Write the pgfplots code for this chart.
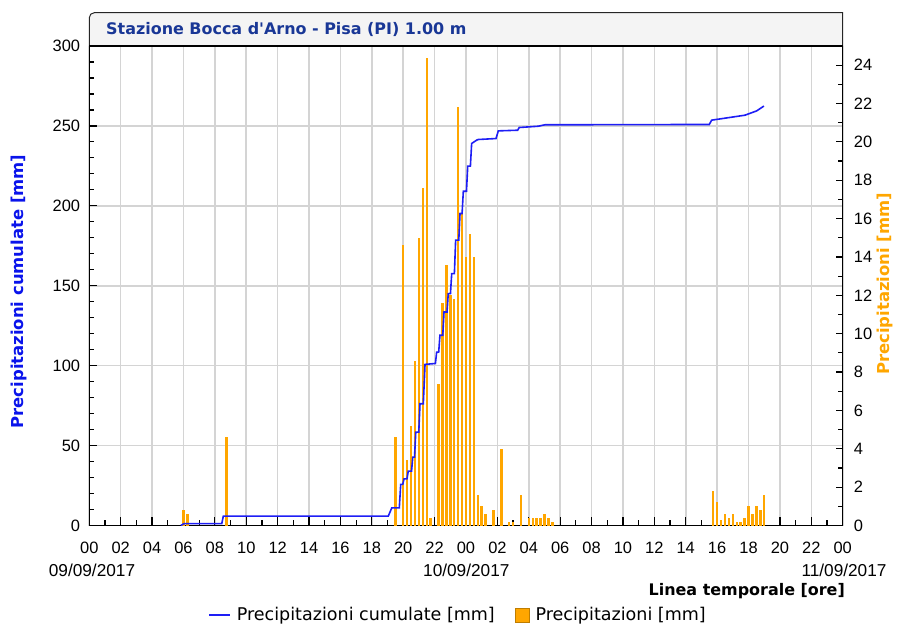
\documentclass[border=0pt]{standalone}
\usepackage{pgfplots}
\pgfplotsset{compat=1.18}
\usepackage{fontspec}
\setmainfont{DejaVu Sans}
\newfontfamily\tickfont{Liberation Sans}
\definecolor{cumblue}{RGB}{30,30,245}
\definecolor{labelblue}{RGB}{10,20,235}
\definecolor{barorange}{RGB}{255,166,0}
\definecolor{titleblue}{RGB}{25,55,150}
\definecolor{gridgray}{RGB}{212,212,212}
\definecolor{titlebg}{RGB}{244,244,244}

\pgfplotsset{
  base/.style={scale only axis, width=753.4bp, height=479.5bp,
    xmin=0, xmax=48, at={(0,0)}, anchor=south west},
  tickfnt/.style={font=\tickfont\fontsize{16.5}{18}\selectfont},
  lineleg/.style={legend image code/.code={\draw[##1] (0bp,0bp) -- (21bp,0bp);}},
  boxleg/.style={legend image code/.code={\draw[##1] (0bp,-7bp) rectangle (14bp,7bp);}},
}

\begin{document}
\begin{tikzpicture}
\useasboundingbox (-89.3bp,-104.5bp) rectangle (808.7bp,525.5bp);

% title box
\draw[black!85, line width=1bp, fill=titlebg]
  (0,479.5bp) -- (0,507.8bp) arc[start angle=180, end angle=90, radius=5bp]
  -- (753.4bp,512.8bp) -- (753.4bp,479.5bp) -- cycle;
\node[anchor=west, inner sep=0pt, text=titleblue,
      font=\bfseries\fontsize{16}{18}\selectfont] at (16.7bp,496bp)
  {Stazione Bocca d{\addfontfeature{Ligatures=TeXOff}'}Arno - Pisa (PI) 1.00 m};

% axis A: grid, left and bottom ticks
\begin{axis}[base, ymin=0, ymax=300,
  xtick={0,2,...,48},
  xticklabels={00,02,04,06,08,10,12,14,16,18,20,22,00,02,04,06,08,10,12,14,16,18,20,22,00},
  minor x tick num=1,
  ytick={0,50,...,300}, minor y tick num=4,
  xtick pos=bottom, ytick pos=left,
  tick align=inside,
  major tick length=8bp, minor tick length=5bp,
  grid=major,
  major grid style={draw=gridgray, line width=1.6bp},
  axis line style={black, line width=1.2bp},
  tick style={black, line width=1.2bp},
  ticklabel style={tickfnt},
  /pgf/number format/assume math mode=true,
  yticklabel style={anchor=east, inner sep=0pt, xshift=-9bp},
  xticklabel style={anchor=center, inner sep=0pt, yshift=-22.5bp},
]
\end{axis}

% axis B: bars on the right axis
\begin{axis}[base, ymin=0, ymax=25,
  axis x line=none, axis y line*=right,
  ytick={0,2,...,24}, minor y tick num=1,
  tick align=inside, major tick length=7bp, minor tick length=5bp,
  axis line style={black, line width=1.2bp},
  tick style={black, line width=1.2bp},
  yticklabel style={tickfnt, anchor=west, inner sep=0pt, xshift=11bp},
  /pgf/number format/assume math mode=true,
]
\addplot[ycomb, draw=barorange, line width=2.4bp] coordinates {
(6.0,0.8) (6.25,0.6) (8.75,4.6)
(19.5,4.6) (20.0,14.6) (20.25,3.4) (20.5,5.2) (20.75,8.6) (21.0,15.0)
(21.25,17.6) (21.5,24.4) (21.75,0.4) (22.25,7.4) (22.5,11.6) (22.75,13.6)
(23.0,12.0) (23.25,11.8) (23.5,21.8) (23.75,16.3) (24.0,14.0) (24.25,15.2)
(24.5,14.0) (24.75,1.6) (25.0,1.0) (25.25,0.6) (25.75,0.8) (26.25,4.0)
(26.75,0.2) (27.0,0.2) (27.5,1.6) (28.0,0.4) (28.25,0.4) (28.5,0.4)
(28.75,0.4) (29.0,0.6) (29.25,0.4) (29.5,0.2)
(39.75,1.8) (40.0,1.2) (40.25,0.3) (40.5,0.6) (40.75,0.4) (41.0,0.6)
(41.25,0.2) (41.5,0.2) (41.75,0.4) (42.0,1.0) (42.25,0.6) (42.5,1.0)
(42.75,0.8) (43.0,1.6)
};
\end{axis}

% axis C: cumulative line and legend
\begin{axis}[base, ymin=0, ymax=300, hide axis,
  legend columns=2,
  legend cell align=left,
  legend style={at={(0.4894,-0.1867)}, anchor=center, draw=none, fill=none,
    font=\fontsize{17.6}{19}\selectfont,
    /tikz/every odd column/.append style={column sep=4bp},
    /tikz/every even column/.append style={column sep=18bp}},
]
\addplot[cumblue, line width=1.6bp, lineleg] coordinates {
(5.83,0) (6.04,1.2) (8.44,1.2) (8.54,5.9) (19.05,5.9) (19.11,7.3)
(19.27,11.0) (19.75,11.0) (19.84,25.7) (19.97,25.7) (20.05,29.2)
(20.24,29.2) (20.32,34.0) (20.53,34.0) (20.61,42.8) (20.72,42.8)
(20.8,58.4) (20.99,58.4) (21.07,76.2) (21.28,76.2) (21.39,100.8)
(21.96,101.3) (22.05,101.3) (22.13,108.5) (22.26,108.5) (22.34,119.0)
(22.52,119.0) (22.6,133.6) (22.79,133.6) (22.87,145.1) (23.01,145.1)
(23.09,157.6) (23.26,157.6) (23.34,178.5) (23.54,178.5) (23.62,195.2)
(23.75,195.2) (23.83,209.1) (24.03,209.1) (24.11,224.8) (24.28,224.8)
(24.36,239.0) (24.68,241.1) (24.78,241.5) (25.91,242.1) (26.06,246.9)
(27.29,247.3) (27.39,249.0) (28.6,249.8) (29.03,250.7) (39.5,250.9)
(39.65,253.6) (41.77,256.7) (42.52,259.4) (42.98,262.4)
};
\addlegendentry{Precipitazioni cumulate [mm]}
\addlegendimage{fill=barorange, draw=barorange!75!black, line width=0.8bp, boxleg}
\addlegendentry{Precipitazioni [mm]}
\end{axis}

% axis titles and date labels
\node[rotate=90, text=labelblue, font=\bfseries\fontsize{16.5}{18}\selectfont]
  at (-70.3bp,234bp) {Precipitazioni cumulate [mm]};
\node[rotate=90, text=barorange, font=\bfseries\fontsize{16.5}{18}\selectfont]
  at (795.7bp,241.5bp) {Precipitazioni [mm]};
\node[anchor=east, inner sep=0pt, font=\bfseries\fontsize{16}{18}\selectfont]
  at (755.7bp,-65.5bp) {Linea temporale [ore]};
\node[inner sep=0pt, font=\tickfont\fontsize{17.3}{18}\selectfont] at (2.7bp,-44.5bp) {09/09/2017};
\node[inner sep=0pt, font=\tickfont\fontsize{17.3}{18}\selectfont] at (377bp,-44.5bp) {10/09/2017};
\node[inner sep=0pt, font=\tickfont\fontsize{17.3}{18}\selectfont] at (754.7bp,-44.5bp) {11/09/2017};
\end{tikzpicture}
\end{document}
